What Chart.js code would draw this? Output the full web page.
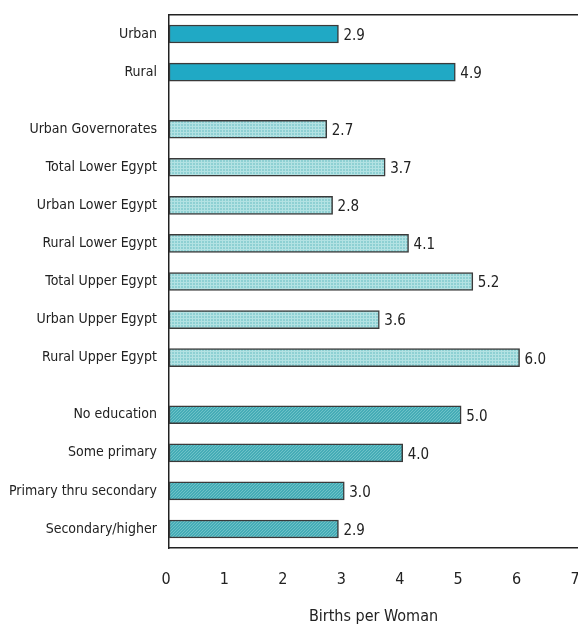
<!DOCTYPE html>
<html>
<head>
<meta charset="utf-8">
<script src="https://cdn.jsdelivr.net/npm/chart.js@4/dist/chart.umd.min.js"></script>
<style>
  html, body { margin: 0; padding: 0; background: #ffffff; }
  #wrap { width: 578px; height: 627px; position: relative; }
</style>
</head>
<body>
<div id="wrap"><canvas id="c" width="578" height="627"></canvas></div>
<script>
// ---- data ----
const residenceLabels = ['Urban', 'Rural'];
const residenceValues = [2.9, 4.9];
const regionLabels = ['Urban Governorates', 'Total Lower Egypt', 'Urban Lower Egypt', 'Rural Lower Egypt',
                      'Total Upper Egypt', 'Urban Upper Egypt', 'Rural Upper Egypt'];
const regionValues = [2.7, 3.7, 2.8, 4.1, 5.2, 3.6, 6.0];
const educationLabels = ['No education', 'Some primary', 'Primary thru secondary', 'Secondary/higher'];
const educationValues = [5.0, 4.0, 3.0, 2.9];
const xTickLabels = ['0', '1', '2', '3', '4', '5', '6', '7'];
const xAxisTitle = 'Births per Woman';

// ---- styles ----
function makePattern(base, light, kind) {
  const p = document.createElement('canvas');
  p.width = 3; p.height = 3;
  const g = p.getContext('2d');
  g.fillStyle = base; g.fillRect(0, 0, 3, 3);
  g.fillStyle = light;
  if (kind === 'grid') {
    g.fillRect(0, 0, 3, 1);
    g.fillRect(0, 0, 1, 3);
  } else {
    g.fillRect(0, 0, 1, 1);
    g.fillRect(2, 1, 1, 1);
    g.fillRect(1, 2, 1, 1);
  }
  return document.getElementById('c').getContext('2d').createPattern(p, 'repeat');
}
const groupFills = [
  '#20a9c5',
  makePattern('#8ed0d3', '#b3e2e3', 'grid'),
  makePattern('#45acb6', '#6ec2c8', 'dots')
];

// ---- build padded category table (spacer rows between bars and groups) ----
const groups = [
  { labels: residenceLabels, values: residenceValues },
  { labels: regionLabels, values: regionValues },
  { labels: educationLabels, values: educationValues }
];
const labels = [''];
const values = [null];
const fills = ['#ffffff'];
groups.forEach((grp, gi) => {
  if (gi > 0) { labels.push(''); values.push(null); fills.push('#ffffff'); }
  grp.labels.forEach((lab, i) => {
    labels.push(lab); values.push(grp.values[i]); fills.push(groupFills[gi]);
    labels.push(''); values.push(null); fills.push('#ffffff');
  });
});

const FONT = "'Liberation Sans Narrow', 'DejaVu Sans Condensed', 'Arial Narrow', sans-serif";

const valueLabelPlugin = {
  id: 'valueLabels',
  afterDatasetsDraw(chart) {
    const ctx = chart.ctx;
    const meta = chart.getDatasetMeta(0);
    ctx.save();
    ctx.font = '15px ' + FONT;
    ctx.fillStyle = '#222222';
    ctx.textAlign = 'left';
    ctx.textBaseline = 'middle';
    meta.data.forEach((bar, i) => {
      const v = values[i];
      if (v === null || v === undefined) return;
      ctx.fillText(v.toFixed(1), bar.x + 5, bar.y + 2);
    });
    ctx.restore();
  }
};

new Chart(document.getElementById('c'), {
  type: 'bar',
  data: {
    labels: labels,
    datasets: [{
      data: values,
      backgroundColor: fills,
      borderColor: '#3a3a3a',
      borderWidth: 1.5,
      borderSkipped: false,
      barThickness: 18
    }]
  },
  options: {
    indexAxis: 'y',
    responsive: false,
    animation: false,
    devicePixelRatio: 1,
    layout: { padding: { left: 0, right: 0, top: 15, bottom: 0 } },
    plugins: { legend: { display: false }, tooltip: { enabled: false } },
    scales: {
      x: {
        type: 'linear',
        position: 'bottom',
        min: 0, max: 7,
        grid: { display: false, drawTicks: false },
        border: { display: true, color: '#222222', width: 1.5 },
        ticks: {
          stepSize: 1,
          padding: 22,
          labelOffset: -3,
          color: '#222222',
          font: { family: FONT, size: 16 },
          callback: (v) => xTickLabels[v]
        },
        title: {
          display: true,
          text: xAxisTitle,
          color: '#222222',
          font: { family: FONT, size: 16 },
          padding: { top: 0, bottom: 1 }
        },
        afterFit(s) { s.height = 79; s.paddingLeft = 0; s.paddingRight = 0; }
      },
      xTop: {
        type: 'linear',
        position: 'top',
        min: 0, max: 7,
        grid: { display: false, drawTicks: false },
        border: { display: true, color: '#222222', width: 1.5 },
        ticks: { display: false },
        afterFit(s) { s.height = 0; s.paddingLeft = 0; s.paddingRight = 0; }
      },
      y: {
        type: 'category',
        offset: false,
        grid: { display: false, drawTicks: false },
        border: { display: true, color: '#222222', width: 1.5 },
        ticks: {
          autoSkip: false,
          padding: 12,
          color: '#222222',
          font: { family: FONT, size: 14 }
        },
        afterFit(s) { s.width = 169; s.paddingTop = 0; s.paddingBottom = 0; }
      }
    }
  },
  plugins: [valueLabelPlugin]
});
</script>
</body>
</html>
